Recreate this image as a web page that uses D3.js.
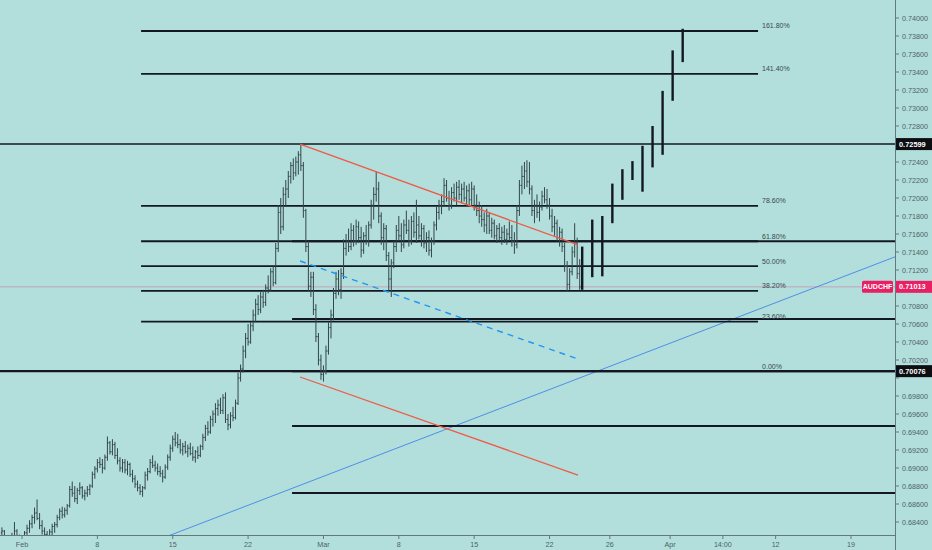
<!DOCTYPE html>
<html><head><meta charset="utf-8">
<script src="https://cdn.jsdelivr.net/npm/d3@7"></script>
<style>html,body{margin:0;padding:0;background:#b2dfdb;}svg{display:block;}</style>
</head><body>
<svg id="chart" width="932" height="550"></svg>
<script>
// ---- DATA ----
const firstBarIndex = -8; // bar index of the first 4H bar (Feb 1 = 0)
const opens = [
0.6828,0.6830,0.6820,0.6816,0.6819,0.6825,0.6830,0.6822,0.6818,
0.6821,0.6828,0.6833,0.6838,0.6845,0.6850,0.6844,0.6836,0.6830,0.6826,
0.6824,0.6829,0.6835,0.6837,0.6845,0.6852,0.6848,0.6853,0.6858,0.6876,
0.6872,0.6866,0.6875,0.6878,0.6869,0.6872,0.6876,0.6880,0.6893,0.6899,
0.6906,0.6904,0.6900,0.6912,0.6928,0.6918,0.6926,0.6914,0.6908,0.6900,
0.6906,0.6898,0.6904,0.6893,0.6888,0.6882,0.6878,0.6874,0.6878,0.6892,
0.6896,0.6906,0.6903,0.6900,0.6896,0.6894,0.6890,0.6901,0.6912,0.6922,
0.6932,0.6928,0.6926,0.6920,0.6924,0.6918,0.6922,0.6916,0.6912,0.6918,
0.6914,0.6924,0.6934,0.6944,0.6940,0.6954,0.6960,0.6966,0.6970,0.6964,
0.6978,0.6954,0.6948,0.6958,0.6956,0.6972,0.7000,0.7010,0.7030,0.7044,
0.7040,0.7058,0.7070,0.7082,0.7076,0.7090,0.7084,0.7100,0.7098,0.7118,
0.7106,0.7144,0.7184,0.7168,0.7204,0.7210,0.7224,0.7236,0.7228,0.7240,
0.7248,0.7236,0.7186,0.7146,0.7102,0.7112,0.7076,0.7046,0.7020,0.7004,
0.7008,0.7030,0.7056,0.7070,0.7094,0.7110,0.7098,0.7116,0.7144,0.7152,
0.7146,0.7164,0.7152,0.7168,0.7156,0.7142,0.7158,0.7152,0.7170,0.7192,
0.7204,0.7210,0.7180,0.7156,0.7166,0.7136,0.7110,0.7128,0.7146,0.7164,
0.7158,0.7148,0.7170,0.7164,0.7152,0.7174,0.7162,0.7170,0.7158,0.7166,
0.7150,0.7156,0.7142,0.7152,0.7170,0.7184,0.7192,0.7196,0.7214,0.7200,
0.7192,0.7206,0.7200,0.7212,0.7204,0.7210,0.7200,0.7208,0.7198,0.7210,
0.7192,0.7186,0.7180,0.7176,0.7170,0.7180,0.7164,0.7172,0.7158,0.7166,
0.7156,0.7162,0.7154,0.7160,0.7156,0.7152,0.7148,0.7186,0.7214,0.7224,
0.7230,0.7218,0.7210,0.7186,0.7192,0.7184,0.7190,0.7202,0.7198,0.7192,
0.7180,0.7168,0.7172,0.7156,0.7162,0.7146,0.7124,0.7104,0.7118,0.7140,0.7150,0.7116];
const highs = [
0.6834,0.6831,0.6824,0.6822,0.6828,0.6840,0.6832,0.6826,0.6824,
0.6830,0.6837,0.6842,0.6848,0.6856,0.6865,0.6850,0.6842,0.6834,0.6830,
0.6832,0.6838,0.6840,0.6848,0.6855,0.6857,0.6856,0.6860,0.6880,0.6885,
0.6880,0.6878,0.6884,0.6880,0.6876,0.6880,0.6882,0.6896,0.6902,0.6910,
0.6912,0.6910,0.6915,0.6935,0.6930,0.6932,0.6929,0.6922,0.6912,0.6910,
0.6910,0.6908,0.6906,0.6898,0.6892,0.6886,0.6882,0.6880,0.6896,0.6900,
0.6910,0.6914,0.6908,0.6905,0.6902,0.6898,0.6904,0.6915,0.6926,0.6936,
0.6940,0.6938,0.6932,0.6928,0.6930,0.6926,0.6928,0.6924,0.6920,0.6924,
0.6926,0.6938,0.6948,0.6952,0.6958,0.6964,0.6972,0.6976,0.6978,0.6982,
0.6984,0.6960,0.6962,0.6968,0.6976,0.7006,0.7015,0.7036,0.7050,0.7060,
0.7062,0.7076,0.7088,0.7092,0.7096,0.7098,0.7104,0.7114,0.7122,0.7124,
0.7150,0.7192,0.7200,0.7212,0.7220,0.7230,0.7240,0.7244,0.7246,0.7252,
0.72599,0.7240,0.7188,0.7152,0.7118,0.7118,0.7082,0.7050,0.7026,0.7014,
0.7036,0.7062,0.7076,0.7100,0.7118,0.7120,0.7122,0.7154,0.7160,0.7166,
0.7172,0.7170,0.7176,0.7174,0.7168,0.7162,0.7170,0.7174,0.7198,0.7212,
0.7229,0.7218,0.7184,0.7172,0.7170,0.7140,0.7132,0.7152,0.7170,0.7180,
0.7172,0.7176,0.7186,0.7176,0.7180,0.7184,0.7198,0.7180,0.7172,0.7170,
0.7162,0.7164,0.7156,0.7174,0.7190,0.7198,0.7204,0.7222,0.7220,0.7208,
0.7212,0.7216,0.7218,0.7220,0.7216,0.7218,0.7214,0.7216,0.7218,0.7214,
0.7204,0.7196,0.7192,0.7184,0.7188,0.7184,0.7178,0.7176,0.7170,0.7172,
0.7168,0.7170,0.7166,0.7174,0.7170,0.7162,0.7192,0.7220,0.7236,0.7240,
0.7242,0.7240,0.7214,0.7198,0.7204,0.7196,0.7208,0.7212,0.7210,0.7200,
0.7188,0.7180,0.7176,0.7168,0.7166,0.7150,0.7130,0.7122,0.7146,0.7172,0.7156,0.7132];
const lows = [
0.6822,0.6818,0.6812,0.6810,0.6815,0.6822,0.6818,0.6814,0.6812,
0.6818,0.6825,0.6828,0.6833,0.6838,0.6842,0.6832,0.6826,0.6822,0.6820,
0.6821,0.6825,0.6828,0.6834,0.6842,0.6844,0.6845,0.6848,0.6856,0.6868,
0.6862,0.6860,0.6870,0.6866,0.6864,0.6868,0.6870,0.6878,0.6888,0.6895,
0.6900,0.6894,0.6898,0.6908,0.6915,0.6914,0.6910,0.6904,0.6896,0.6895,
0.6894,0.6892,0.6890,0.6884,0.6878,0.6874,0.6870,0.6868,0.6876,0.6886,
0.6894,0.6900,0.6896,0.6892,0.6890,0.6884,0.6888,0.6898,0.6908,0.6918,
0.6924,0.6922,0.6916,0.6914,0.6916,0.6912,0.6914,0.6908,0.6906,0.6910,
0.6912,0.6920,0.6930,0.6936,0.6938,0.6946,0.6950,0.6958,0.6960,0.6960,
0.6950,0.6942,0.6944,0.6952,0.6954,0.6970,0.6996,0.7006,0.7022,0.7036,
0.7038,0.7052,0.7062,0.7070,0.7072,0.7078,0.7080,0.7094,0.7096,0.7102,
0.7104,0.7140,0.7160,0.7164,0.7190,0.7200,0.7216,0.7220,0.7224,0.7226,
0.7230,0.7178,0.7140,0.7096,0.7090,0.7070,0.7040,0.7014,0.6998,0.6996,
0.7004,0.7026,0.7044,0.7064,0.7088,0.7092,0.7088,0.7110,0.7136,0.7140,
0.7142,0.7146,0.7148,0.7150,0.7134,0.7138,0.7148,0.7146,0.7166,0.7176,
0.7196,0.7172,0.7148,0.7142,0.7130,0.7096,0.7090,0.7122,0.7140,0.7152,
0.7140,0.7144,0.7160,0.7146,0.7148,0.7156,0.7150,0.7154,0.7146,0.7144,
0.7140,0.7136,0.7134,0.7148,0.7164,0.7176,0.7182,0.7190,0.7196,0.7186,
0.7188,0.7196,0.7192,0.7198,0.7194,0.7196,0.7190,0.7192,0.7192,0.7186,
0.7180,0.7172,0.7168,0.7162,0.7160,0.7160,0.7156,0.7154,0.7150,0.7152,
0.7148,0.7150,0.7148,0.7152,0.7146,0.7138,0.7144,0.7180,0.7204,0.7210,
0.7212,0.7204,0.7180,0.7172,0.7178,0.7174,0.7186,0.7194,0.7188,0.7176,
0.7162,0.7158,0.7152,0.7146,0.7140,0.7118,0.7096,0.7098,0.7114,0.7134,0.7110,0.7098];
const closes = [
0.6830,0.6820,0.6816,0.6819,0.6825,0.6830,0.6822,0.6818,0.6821,
0.6828,0.6833,0.6838,0.6845,0.6850,0.6844,0.6836,0.6830,0.6826,0.6824,
0.6829,0.6835,0.6837,0.6845,0.6852,0.6848,0.6853,0.6858,0.6876,0.6872,
0.6866,0.6875,0.6878,0.6869,0.6872,0.6876,0.6880,0.6893,0.6899,0.6906,
0.6904,0.6900,0.6912,0.6928,0.6918,0.6926,0.6914,0.6908,0.6900,0.6906,
0.6898,0.6904,0.6893,0.6888,0.6882,0.6878,0.6874,0.6878,0.6892,0.6896,
0.6906,0.6903,0.6900,0.6896,0.6894,0.6890,0.6901,0.6912,0.6922,0.6932,
0.6928,0.6926,0.6920,0.6924,0.6918,0.6922,0.6916,0.6912,0.6918,0.6914,
0.6924,0.6934,0.6944,0.6940,0.6954,0.6960,0.6966,0.6970,0.6964,0.6978,
0.6954,0.6948,0.6958,0.6956,0.6972,0.7000,0.7010,0.7030,0.7044,0.7040,
0.7058,0.7070,0.7082,0.7076,0.7090,0.7084,0.7100,0.7098,0.7118,0.7106,
0.7144,0.7184,0.7168,0.7204,0.7210,0.7224,0.7236,0.7228,0.7240,0.7248,
0.7236,0.7186,0.7146,0.7102,0.7112,0.7076,0.7046,0.7020,0.7004,0.7008,
0.7030,0.7056,0.7070,0.7094,0.7110,0.7098,0.7116,0.7144,0.7152,0.7146,
0.7164,0.7152,0.7168,0.7156,0.7142,0.7158,0.7152,0.7170,0.7192,0.7204,
0.7210,0.7180,0.7156,0.7166,0.7136,0.7110,0.7128,0.7146,0.7164,0.7158,
0.7148,0.7170,0.7164,0.7152,0.7174,0.7162,0.7170,0.7158,0.7166,0.7150,
0.7156,0.7142,0.7152,0.7170,0.7184,0.7192,0.7196,0.7214,0.7200,0.7192,
0.7206,0.7200,0.7212,0.7204,0.7210,0.7200,0.7208,0.7198,0.7210,0.7192,
0.7186,0.7180,0.7176,0.7170,0.7180,0.7164,0.7172,0.7158,0.7166,0.7156,
0.7162,0.7154,0.7160,0.7156,0.7152,0.7148,0.7186,0.7214,0.7224,0.7230,
0.7218,0.7210,0.7186,0.7192,0.7184,0.7190,0.7202,0.7198,0.7192,0.7180,
0.7168,0.7172,0.7156,0.7162,0.7146,0.7124,0.7104,0.7118,0.7140,0.7150,0.7116,0.71013];

// projected path ("bars pattern" drawing)
const projIndex = [223,227,231,235,239,243,247,251,255,259,263];
const projHigh  = [0.7146,0.7176,0.7180,0.7216,0.7232,0.7241,0.7258,0.7280,0.7319,0.7364,0.7388];
const projLow   = [0.7098,0.7112,0.7113,0.7172,0.7198,0.7220,0.7207,0.7234,0.7248,0.7308,0.7351];

// axes
const xTickIndex  = [0,30,60,90,120,150,180,210,234,258,279,300,330];
const xTickLabels = ["Feb","8","15","22","Mar","8","15","22","26","Apr","14:00","12","19"];
const yTicks = [0.684,0.686,0.688,0.690,0.692,0.694,0.696,0.698,0.700,0.702,0.704,0.706,0.708,
  0.710,0.712,0.714,0.716,0.718,0.720,0.722,0.724,0.726,0.728,0.730,0.732,0.734,0.736,0.738,0.740];

// fibonacci retracement
const fibZero = 0.70076, fibOne = 0.72412;
const fibRatios = [0,0.236,0.382,0.5,0.618,0.786,1.414,1.618];
const fibLabels = ["0.00%","23.60%","38.20%","50.00%","61.80%","78.60%","141.40%","161.80%"];
const fibSpan = [47.4, 293];

// horizontal lines / rays
const hLines = [0.72599, 0.70076];
const rayLevels = [0.71519, 0.70656, 0.70076, 0.69467, 0.68722];
const rayStart = 107.5;
const lastPrice = 0.71013;
const symbol = "AUDCHF";

// trend lines [barIndex, price]
const redUpper = [[110.7,0.72599],[221.3,0.71478]];
const redLower = [[110.7,0.70011],[221.3,0.68922]];
const blueDashed = [[110.7,0.7130],[221.3,0.70211]];
const blueRay = [[54,0.6820],[360,0.7148]];

// ---- DRAW ----
const W = 932, H = 550, plotR = 895, plotB = 535;
const svg = d3.select("#chart");
const x = d3.scaleLinear().domain([0,330]).range([22,851]);
const y = d3.scaleLinear().domain([0.684,0.740]).range([522,18]);
const fnt = "'Liberation Sans', Arial, sans-serif";

svg.append("rect").attr("width",W).attr("height",H).attr("fill","#b2dfdb");
svg.append("defs").append("clipPath").attr("id","plot")
  .append("rect").attr("x",0).attr("y",0).attr("width",plotR).attr("height",plotB);
const g = svg.append("g").attr("clip-path","url(#plot)");

// current price line
g.append("line").attr("x1",0).attr("x2",plotR).attr("y1",y(lastPrice)).attr("y2",y(lastPrice))
  .attr("stroke","#e91e63").attr("stroke-opacity",0.3).attr("stroke-width",1);

// blue ray
const lineGen = d3.line().x(d=>x(d[0])).y(d=>y(d[1]));
g.append("path").attr("d",lineGen(blueRay)).attr("stroke","#4f8ee8").attr("stroke-width",1).attr("fill","none");

// fib lines
const fibLevels = fibRatios.map(r => fibZero + r*(fibOne-fibZero));
g.selectAll(".fib").data(fibLevels).join("line")
  .attr("x1",x(fibSpan[0])).attr("x2",x(fibSpan[1]))
  .attr("y1",d=>y(d)).attr("y2",d=>y(d))
  .attr("stroke","#131722").attr("stroke-width",1.8);
svg.selectAll(".fibl").data(fibLevels).join("text")
  .attr("x",x(fibSpan[1])+4).attr("y",d=>y(d)-2.5)
  .text((d,i)=>fibLabels[i])
  .attr("font-family",fnt).attr("font-size",7).attr("fill","#37474f");

// rays
g.selectAll(".ray").data(rayLevels).join("line")
  .attr("x1",x(rayStart)).attr("x2",plotR)
  .attr("y1",d=>y(d)).attr("y2",d=>y(d))
  .attr("stroke","#131722").attr("stroke-width",2);
// full lines
g.selectAll(".hl").data(hLines).join("line")
  .attr("x1",0).attr("x2",plotR)
  .attr("y1",d=>y(d)).attr("y2",d=>y(d))
  .attr("stroke","#131722").attr("stroke-width",(d,i)=>i===0?1.5:2.2);

// bars
const bars = closes.map((c,i)=>({i:i+firstBarIndex,o:opens[i],h:highs[i],l:lows[i],c:c}));
const bg = g.append("g").attr("stroke","#34464a").attr("stroke-width",1);
bars.forEach(b=>{
  const cx = x(b.i);
  bg.append("line").attr("x1",cx).attr("x2",cx).attr("y1",y(b.h)).attr("y2",y(b.l));
  bg.append("line").attr("x1",cx-1.1).attr("x2",cx).attr("y1",y(b.o)).attr("y2",y(b.o));
  bg.append("line").attr("x1",cx).attr("x2",cx+1.1).attr("y1",y(b.c)).attr("y2",y(b.c));
});

// trend lines
g.append("path").attr("d",lineGen(redUpper)).attr("stroke","#ef5a47").attr("stroke-width",1.3).attr("fill","none");
g.append("path").attr("d",lineGen(redLower)).attr("stroke","#ef5a47").attr("stroke-width",1.3).attr("fill","none");
g.append("path").attr("d",lineGen(blueDashed)).attr("stroke","#2196f3").attr("stroke-width",1.4)
  .attr("stroke-dasharray","6,5").attr("fill","none");

// projection bars
g.selectAll(".proj").data(projIndex).join("line")
  .attr("x1",d=>x(d)).attr("x2",d=>x(d))
  .attr("y1",(d,i)=>y(projHigh[i])).attr("y2",(d,i)=>y(projLow[i]))
  .attr("stroke","#131722").attr("stroke-width",2.4);

// right axis
const tagLevels = hLines.concat([lastPrice]);
const visibleTicks = yTicks.filter(t => tagLevels.every(v => Math.abs(y(t)-y(v)) > 9));
svg.append("line").attr("x1",plotR+0.5).attr("x2",plotR+0.5).attr("y1",0).attr("y2",H)
  .attr("stroke","#66797a").attr("stroke-width",1);
svg.selectAll(".yt").data(yTicks).join("line")
  .attr("x1",plotR).attr("x2",plotR+4).attr("y1",d=>y(d)).attr("y2",d=>y(d))
  .attr("stroke","#66797a");
svg.selectAll(".ytl").data(visibleTicks).join("text")
  .attr("x",plotR+7).attr("y",d=>y(d)+2.5).text(d=>d3.format(".5f")(d))
  .attr("font-family",fnt).attr("font-size",7.2).attr("fill","#4f6263");

// bottom axis
svg.append("line").attr("x1",0).attr("x2",plotR).attr("y1",plotB+0.5).attr("y2",plotB+0.5)
  .attr("stroke","#66797a");
svg.selectAll(".xt").data(xTickIndex).join("line")
  .attr("x1",d=>x(d)).attr("x2",d=>x(d)).attr("y1",plotB).attr("y2",plotB+4)
  .attr("stroke","#66797a");
svg.selectAll(".xtl").data(xTickIndex).join("text")
  .attr("x",d=>x(d)).attr("y",plotB+12).attr("text-anchor","middle")
  .text((d,i)=>xTickLabels[i])
  .attr("font-family",fnt).attr("font-size",7.2).attr("fill","#4f6263");

// axis price labels
function priceTag(v, fill){
  svg.append("rect").attr("x",plotR+1).attr("y",y(v)-6).attr("width",W-plotR-1).attr("height",12).attr("fill",fill);
  svg.append("text").attr("x",plotR+4).attr("y",y(v)+2.6).text(d3.format(".5f")(v))
    .attr("font-family",fnt).attr("font-size",7.4).attr("font-weight","bold").attr("fill","#ffffff");
}
hLines.forEach(v=>priceTag(v,"#0c0e12"));
priceTag(lastPrice,"#e91e63");
svg.append("rect").attr("x",862).attr("y",y(lastPrice)-6).attr("width",31).attr("height",12).attr("rx",1.5).attr("fill","#e91e63");
svg.append("text").attr("x",877.5).attr("y",y(lastPrice)+2.6).attr("text-anchor","middle").text(symbol)
  .attr("font-family",fnt).attr("font-size",7).attr("font-weight","bold").attr("fill","#ffffff");
</script>
</body></html>
